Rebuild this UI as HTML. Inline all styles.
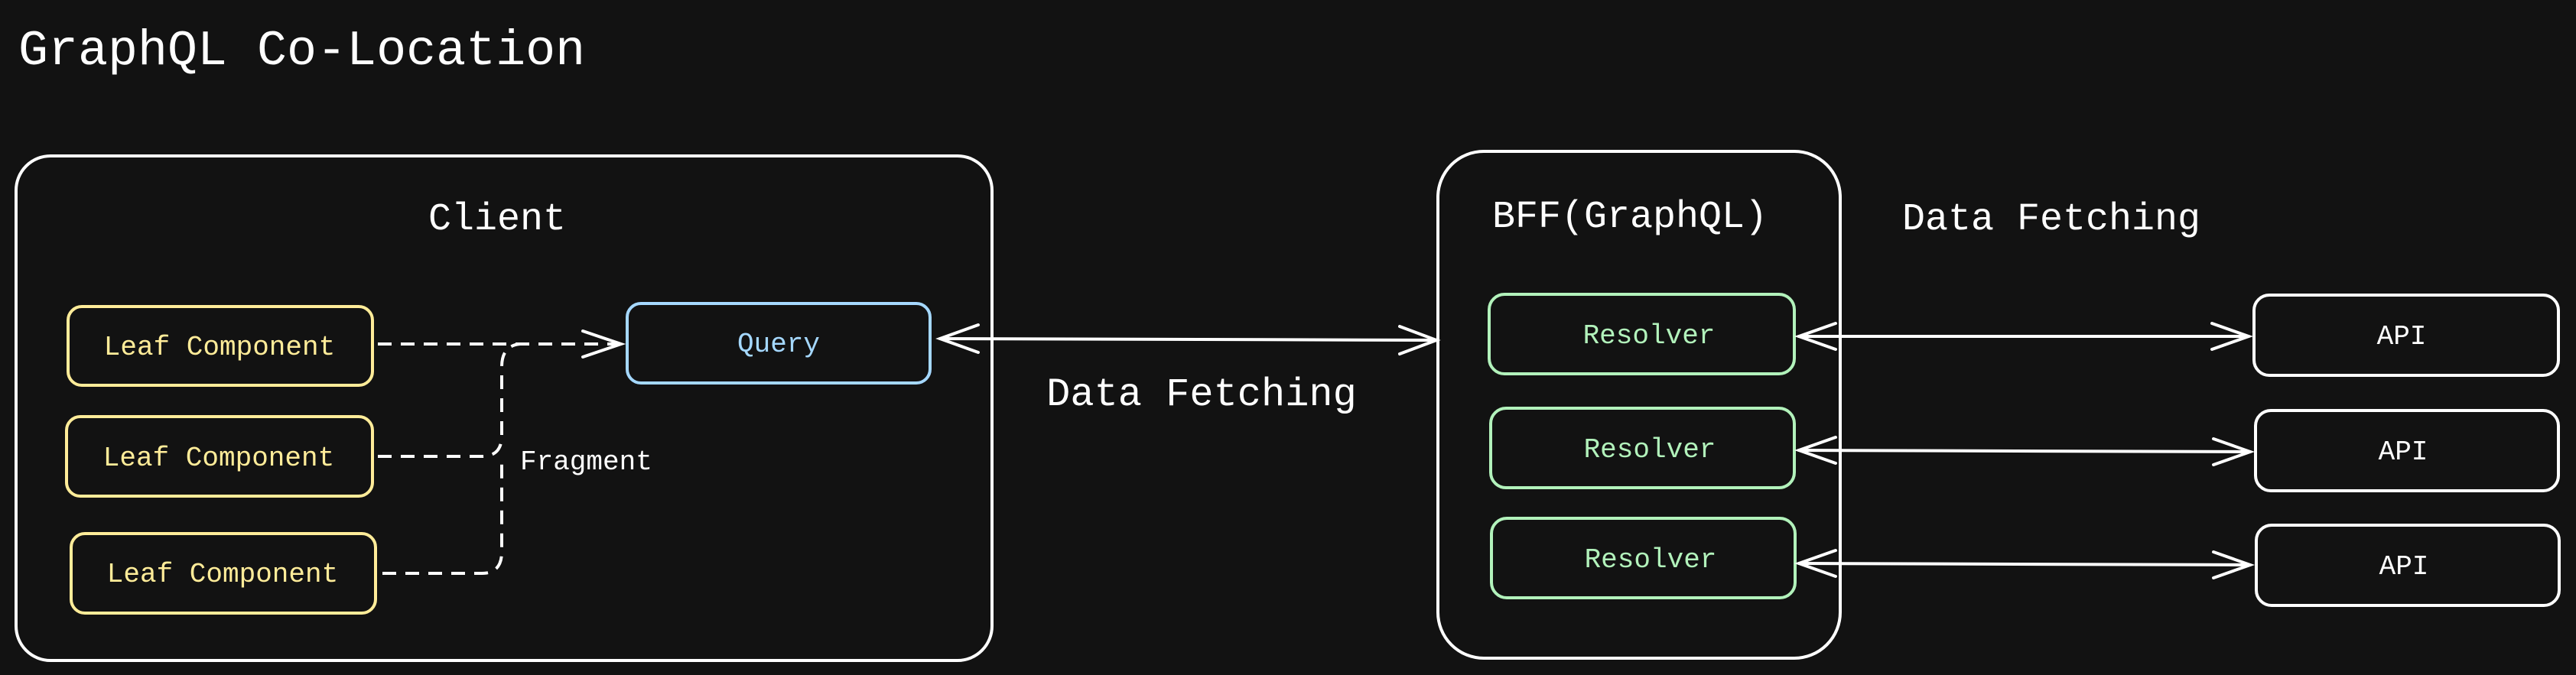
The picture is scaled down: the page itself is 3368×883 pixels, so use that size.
<!DOCTYPE html>
<html><head><meta charset="utf-8"><style>
html,body{margin:0;padding:0;background:#121212;}
svg{display:block;}
text{font-family:"Liberation Mono",monospace;}
</style></head><body>
<svg width="3368" height="883" viewBox="0 0 3368 883" xmlns="http://www.w3.org/2000/svg">
<rect width="3368" height="883" fill="#121212"/>
<text x="24" y="84" font-size="65" fill="#ffffff">GraphQL Co-Location</text>

<!-- Client -->
<rect x="21" y="204" width="1276" height="660" rx="45" fill="none" stroke="#fff" stroke-width="4"/>
<text x="650" y="300" font-size="50" fill="#fff" text-anchor="middle">Client</text>

<g fill="none" stroke="#ffec99" stroke-width="4">
<rect x="89" y="401" width="398" height="103" rx="18"/>
<rect x="87" y="545" width="400" height="104" rx="18"/>
<rect x="93" y="698" width="398" height="104" rx="18"/>
</g>
<g font-size="36" fill="#ffec99" text-anchor="middle">
<text x="287" y="464">Leaf Component</text>
<text x="286" y="609">Leaf Component</text>
<text x="291" y="761">Leaf Component</text>
</g>

<rect x="820" y="397" width="396" height="104" rx="18" fill="none" stroke="#a5d8ff" stroke-width="4"/>
<text x="1018" y="460" font-size="36" fill="#a5d8ff" text-anchor="middle">Query</text>

<!-- dashed fragment lines -->
<g fill="none" stroke="#fff" stroke-width="4" stroke-dasharray="18 12">
<path d="M494 450 L812 450"/>
<path d="M494 597 L630 597 Q656 597 656 570 L656 480 Q656 452 680 450"/>
<path d="M500 750 L630 750 Q656 750 656 722 L656 600"/>
</g>
<path d="M762 433 L812 450 L762 467" fill="none" stroke="#fff" stroke-width="4" stroke-linecap="round"/>
<text x="680" y="614" font-size="36" fill="#fff">Fragment</text>

<!-- Query <-> BFF -->
<g fill="none" stroke="#fff" stroke-width="4" stroke-linecap="round">
<path d="M1229 443 L1878 445"/>
<path d="M1279 425 L1229 443 L1279 461"/>
<path d="M1830 427 L1878 445 L1830 463"/>
</g>
<text x="1571" y="530" font-size="52" fill="#fff" text-anchor="middle">Data Fetching</text>

<!-- BFF -->
<rect x="1880" y="198" width="526" height="663" rx="60" fill="none" stroke="#fff" stroke-width="4"/>
<text x="2131" y="297" font-size="50" fill="#fff" text-anchor="middle">BFF(GraphQL)</text>
<text x="2682" y="300" font-size="50" fill="#fff" text-anchor="middle">Data Fetching</text>

<g fill="none" stroke="#b2f2bb" stroke-width="4">
<rect x="1947" y="385" width="399" height="104" rx="20"/>
<rect x="1949" y="534" width="397" height="104" rx="20"/>
<rect x="1950" y="678" width="397" height="104" rx="20"/>
</g>
<g font-size="36" fill="#b2f2bb" text-anchor="middle">
<text x="2156" y="449">Resolver</text>
<text x="2157" y="598">Resolver</text>
<text x="2158" y="742">Resolver</text>
</g>

<g fill="none" stroke="#fff" stroke-width="4">
<rect x="2947" y="386" width="398" height="105" rx="20"/>
<rect x="2949" y="537" width="396" height="105" rx="20"/>
<rect x="2950" y="687" width="396" height="105" rx="20"/>
</g>
<g font-size="36" fill="#fff" text-anchor="middle">
<text x="3140" y="450">API</text>
<text x="3142" y="601">API</text>
<text x="3143" y="751">API</text>
</g>

<g fill="none" stroke="#fff" stroke-width="4" stroke-linecap="round">
<path d="M2352 440 L2940 440"/><path d="M2400 423 L2352 440 L2400 457"/><path d="M2892 423 L2940 440 L2892 457"/>
<path d="M2352 589 L2942 591"/><path d="M2400 572 L2352 589 L2400 606"/><path d="M2894 574 L2942 591 L2894 608"/>
<path d="M2352 737 L2942 739"/><path d="M2400 720 L2352 737 L2400 754"/><path d="M2894 722 L2942 739 L2894 756"/>
</g>
</svg>
</body></html>
